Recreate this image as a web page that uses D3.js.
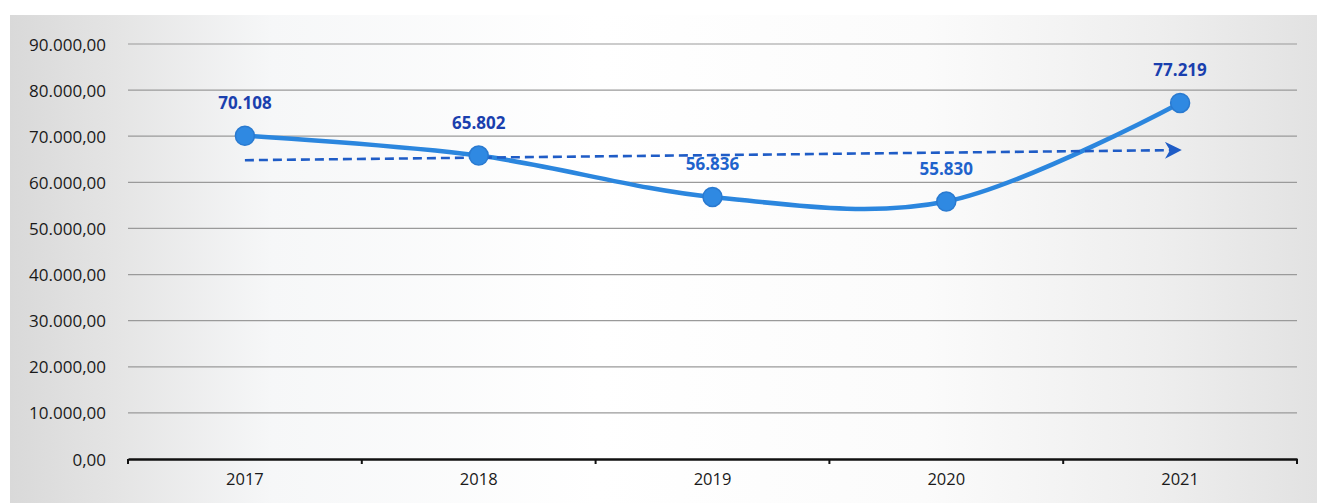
<!DOCTYPE html>
<html>
<head>
<meta charset="utf-8">
<script src="https://cdn.jsdelivr.net/npm/d3@7"></script>
<style>
  html, body { margin: 0; padding: 0; background: #ffffff; }
  svg { display: block; }
</style>
</head>
<body>
<svg id="chart" width="1317" height="503"></svg>
<script>
// ---- data ----
const categories = ["2017", "2018", "2019", "2020", "2021"];
const values = [70108, 65802, 56836, 55830, 77219];
const valueLabels = ["70.108", "65.802", "56.836", "55.830", "77.219"];
const trendValues = [64800, 67000]; // trend line at first and last category
const yTicks = [0, 10000, 20000, 30000, 40000, 50000, 60000, 70000, 80000, 90000];
const yTickLabels = ["0,00", "10.000,00", "20.000,00", "30.000,00", "40.000,00", "50.000,00", "60.000,00", "70.000,00", "80.000,00", "90.000,00"];

const svg = d3.select("#chart");
const W = 1317, H = 503;
const plot = { left: 128, right: 1297, top: 44, bottom: 459 };

// background (scanned page look)
const defs = svg.append("defs");
const grad = defs.append("linearGradient").attr("id", "bg").attr("x1", "0").attr("x2", "1").attr("y1", "0").attr("y2", "0");
grad.append("stop").attr("offset", "0").attr("stop-color", "#d9d9d9");
grad.append("stop").attr("offset", "0.08").attr("stop-color", "#e4e4e4");
grad.append("stop").attr("offset", "0.2").attr("stop-color", "#f6f7f8");
grad.append("stop").attr("offset", "0.45").attr("stop-color", "#ffffff");
grad.append("stop").attr("offset", "0.7").attr("stop-color", "#fbfbfb");
grad.append("stop").attr("offset", "0.88").attr("stop-color", "#eeeeee");
grad.append("stop").attr("offset", "1").attr("stop-color", "#e2e2e2");
svg.append("rect").attr("x", 10).attr("y", 15).attr("width", W - 10).attr("height", H - 15).attr("fill", "url(#bg)");

const marker = defs.append("marker").attr("id", "arrow")
  .attr("viewBox", "0 0 10 10").attr("refX", 9).attr("refY", 5)
  .attr("markerWidth", 6.5).attr("markerHeight", 6.5).attr("orient", "auto")
  .attr("markerUnits", "strokeWidth");
marker.append("path").attr("d", "M0,0 L10,5 L0,10 L3,5 Z").attr("fill", "#1f5cc6");

// scales
const x = d3.scaleBand().domain(categories).range([plot.left, plot.right]).padding(0);
const y = d3.scaleLinear().domain([0, 90000]).range([plot.bottom, plot.top]);
const cx = d => x(d) + x.bandwidth() / 2;

// gridlines
svg.append("g").selectAll("line").data(yTicks.filter(d => d > 0)).join("line")
  .attr("x1", plot.left).attr("x2", plot.right)
  .attr("y1", d => y(d)).attr("y2", d => y(d))
  .attr("stroke", "#9a9a9a").attr("stroke-width", 1.2);

// y labels
svg.append("g").selectAll("text").data(yTicks).join("text")
  .attr("x", 106).attr("y", d => y(d))
  .attr("text-anchor", "end").attr("dominant-baseline", "central")
  .attr("font-family", "'Open Sans', sans-serif").attr("font-size", 17)
  .attr("fill", "#1a1a1a")
  .text((d, i) => yTickLabels[i]);

// x axis
const xAxis = d3.axisBottom(x).tickSize(0).tickPadding(14);
const gx = svg.append("g").attr("transform", `translate(0,${plot.bottom})`).call(xAxis);
gx.select(".domain").attr("stroke", "#111").attr("stroke-width", 2.5);
gx.selectAll("text").attr("font-family", "'Open Sans', sans-serif").attr("font-size", 16.5).attr("fill", "#1a1a1a");
// boundary ticks
const bounds = categories.map(c => x(c)).concat([plot.right]);
svg.append("g").selectAll("line").data(bounds).join("line")
  .attr("x1", d => d).attr("x2", d => d)
  .attr("y1", plot.bottom).attr("y2", plot.bottom + 5)
  .attr("stroke", "#111").attr("stroke-width", 2);

// main smoothed line
const line = d3.line().x((d, i) => cx(categories[i])).y(d => y(d)).curve(d3.curveCardinal.tension(0));
svg.append("path").datum(values).attr("d", line)
  .attr("fill", "none").attr("stroke", "#2b86de").attr("stroke-width", 4.5).attr("stroke-linecap", "round");

// trend line (dashed with arrow)
const tX = [cx(categories[0]), cx(categories[categories.length - 1])];
svg.append("line")
  .attr("x1", tX[0]).attr("y1", y(trendValues[0]))
  .attr("x2", tX[1]).attr("y2", y(trendValues[1]))
  .attr("stroke", "#1f5cc6").attr("stroke-width", 2.6)
  .attr("stroke-dasharray", "9,5")
  .attr("marker-end", "url(#arrow)");

// markers
svg.append("g").selectAll("circle").data(values).join("circle")
  .attr("cx", (d, i) => cx(categories[i])).attr("cy", d => y(d))
  .attr("r", 9.5).attr("fill", "#2f89e2").attr("stroke", "#2a7ad0").attr("stroke-width", 1.5);

// data labels
const labelColors = ["#1a3fae", "#1a3fae", "#1f63cc", "#1f63cc", "#1a3fae"];
svg.append("g").selectAll("text").data(values).join("text")
  .attr("x", (d, i) => cx(categories[i]))
  .attr("y", d => y(d) - 33)
  .attr("text-anchor", "middle").attr("dominant-baseline", "central")
  .attr("font-family", "'Open Sans', sans-serif").attr("font-weight", "bold").attr("font-size", 17)
  .attr("fill", (d, i) => labelColors[i])
  .text((d, i) => valueLabels[i]);
</script>
</body>
</html>
